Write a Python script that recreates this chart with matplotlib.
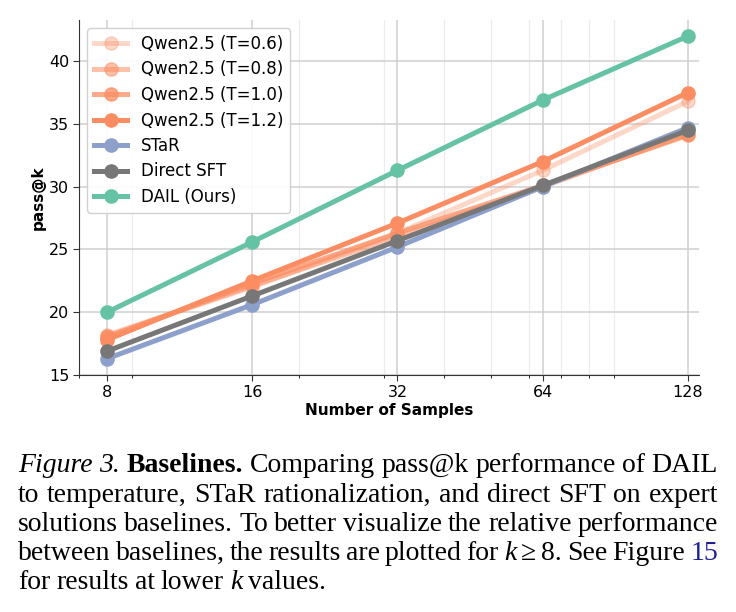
import matplotlib
matplotlib.use('Agg')
import matplotlib.pyplot as plt
from matplotlib.ticker import FixedLocator, NullFormatter, LogLocator

# Datos
k_vals = [8, 16, 32, 64, 128]
qwen_t06 = [18.2, 22.0, 26.3, 31.3, 36.8]
qwen_t08 = [18.1, 22.1, 26.0, 30.0, 34.2]
qwen_t10 = [18.0, 22.3, 26.3, 30.1, 34.1]
qwen_t12 = [17.8, 22.5, 27.1, 32.0, 37.5]
star = [16.3, 20.6, 25.2, 30.0, 34.7]
direct_sft = [16.9, 21.3, 25.7, 30.1, 34.5]
dail = [20.0, 25.6, 31.3, 36.9, 42.0]

W, H = 736, 612
fig = plt.figure(figsize=(W / 100, H / 100), dpi=100)
ax = fig.add_axes([79 / W, 1 - 375 / H, 620 / W, 355 / H])

naranja = '#fc8d62'
estilo = dict(lw=3.6, marker='o', markersize=9.5)
ax.plot(k_vals, qwen_t06, color=naranja, alpha=0.35, label='Qwen2.5 (T=0.6)', **estilo)
ax.plot(k_vals, qwen_t08, color=naranja, alpha=0.55, label='Qwen2.5 (T=0.8)', **estilo)
ax.plot(k_vals, qwen_t10, color=naranja, alpha=0.75, label='Qwen2.5 (T=1.0)', **estilo)
ax.plot(k_vals, qwen_t12, color=naranja, alpha=1.0, label='Qwen2.5 (T=1.2)', **estilo)
ax.plot(k_vals, star, color='#8da0cb', label='STaR', **estilo)
ax.plot(k_vals, direct_sft, color='#777777', label='Direct SFT', **estilo)
ax.plot(k_vals, dail, color='#66c2a5', label='DAIL (Ours)', **estilo)

ax.set_xscale('log')
ax.set_xlim(7, 135)
ax.xaxis.set_major_locator(FixedLocator(k_vals))
ax.set_xticklabels([str(k) for k in k_vals])
ax.xaxis.set_minor_locator(LogLocator(base=10, subs=range(2, 10)))
ax.xaxis.set_minor_formatter(NullFormatter())
ax.set_yticks([15, 20, 25, 30, 35, 40])

ax.tick_params(axis='both', labelsize=11.5, color='#333333')
ax.tick_params(axis='y', length=4, pad=3)
ax.tick_params(axis='x', which='major', length=4)
ax.tick_params(axis='x', which='minor', length=2.5)
for lado in ['top', 'right']:
    ax.spines[lado].set_visible(False)
ax.spines['bottom'].set_color('#333333')
ax.spines['left'].set_color('#333333')

ax.grid(True, which='major', color='#cfcfcf', lw=1.1)
ax.grid(True, which='minor', axis='x', color='#ececec', lw=0.9)
ax.set_axisbelow(True)

ax.set_xlabel('Number of Samples', fontsize=11, fontweight='bold', labelpad=2)
ax.set_ylabel('pass@k', fontsize=11, fontweight='bold', labelpad=2)
ax.legend(loc='upper left', fontsize=12, framealpha=0.9, handlelength=2.0,
          labelspacing=0.45)

# Pie de figura justificado
lineas = [
    [('Figure', 'italic', None), ('3.', 'italic', None), ('Baselines.', 'bold', None),
     ('Comparing', None, None), ('pass@k', None, None), ('performance', None, None),
     ('of', None, None), ('DAIL', None, None)],
    [(w, None, None) for w in 'to temperature, STaR rationalization, and direct SFT on expert'.split()],
    [(w, None, None) for w in 'solutions baselines. To better visualize the relative performance'.split()],
    [(w, None, None) for w in 'between baselines, the results are plotted for'.split()]
    + [('k', 'italic', None), ('≥', None, None), ('8.', None, None), ('See', None, None),
       ('Figure', None, None), ('15', None, '#1f1f8f')],
    [(w, None, None) for w in 'for results at lower'.split()]
    + [('k', 'italic', None), ('values.', None, None)],
]
bases = [472, 501.5, 531, 560, 589]
x0, x1 = 18, 718
renderer = fig.canvas.get_renderer()

for n, (linea, yb) in enumerate(zip(lineas, bases)):
    textos = []
    for palabra, estilo_p, color in linea:
        t = fig.text(0, 1 - yb / H, palabra, fontsize=20, va='baseline', ha='left',
                     family=['Liberation Serif', 'DejaVu Serif'],
                     style='italic' if estilo_p == 'italic' else 'normal',
                     weight='bold' if estilo_p == 'bold' else 'normal',
                     color=color or 'black')
        textos.append(t)
    anchos = [t.get_window_extent(renderer).width for t in textos]
    if n < len(lineas) - 1:
        hueco = (x1 - x0 - sum(anchos)) / (len(textos) - 1)
    else:
        hueco = 6
    x = x0
    for t, a in zip(textos, anchos):
        t.set_x(x / W)
        x += a + hueco

fig.savefig('out.png', dpi=100)
